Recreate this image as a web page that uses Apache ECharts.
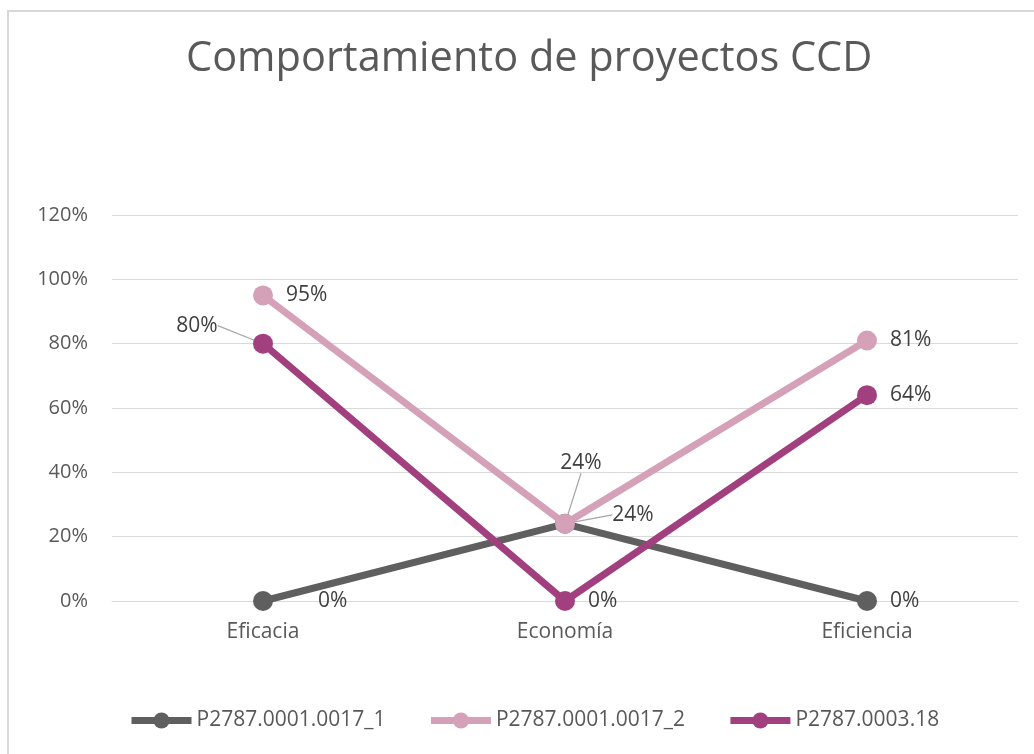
<!DOCTYPE html>
<html>
<head>
<meta charset="utf-8">
<script src="https://cdn.jsdelivr.net/npm/echarts@6/dist/echarts.min.js"></script>
<style>
html,body{margin:0;padding:0;background:#fff;overflow:hidden;width:1034px;height:754px;}
#frame{position:absolute;left:7px;top:10px;width:1100px;height:800px;border-left:2px solid #d9d9d9;border-top:2px solid #d9d9d9;}
#main{position:absolute;left:0;top:0;width:1034px;height:754px;}
</style>
</head>
<body>
<div id="frame"></div>
<div id="main"></div>
<script>
var categories = ['Eficacia', 'Economía', 'Eficiencia'];
var seriesNames = ['P2787.0001.0017_1', 'P2787.0001.0017_2', 'P2787.0003.18'];
var valuesP1 = [0, 0.24, 0];
var valuesP2 = [0.95, 0.24, 0.81];
var valuesP3 = [0.80, 0, 0.64];
var yTicks = [0, 0.2, 0.4, 0.6, 0.8, 1.0, 1.2];

var colors = ['#5f5f5f', '#d4a1b9', '#a2407f'];
var FONT = 'Open Sans';

function pct(v){ return Math.round(v*100) + '%'; }

// label offsets for leader-line labels (seriesIndex-dataIndex)
var moved = {
  '0-1': {dx: 16, dy: -61},
  '1-1': {dx: 68, dy: -9},
  '2-0': {dx: -66, dy: -18}
};

function mkSeries(idx, vals){
  return {
    name: seriesNames[idx],
    type: 'line',
    data: vals.map(function(v, i){
      var key = idx + '-' + i;
      var item = {value: v};
      if (moved[key]) {
        item.label = {position: 'inside'};
        item.labelLine = {show: true};
      }
      if (idx === 0 && i === 0) {
        item.label = {distance: 45};
      }
      return item;
    }),
    symbol: 'circle',
    symbolSize: 20,
    lineStyle: {color: colors[idx], width: 7},
    itemStyle: {color: colors[idx]},
    label: {
      show: true,
      position: 'right',
      distance: 13,
      formatter: function(p){ return pct(p.value); },
      color: '#404040',
      fontFamily: FONT,
      fontSize: 21
    },
    labelLine: {show: false, lineStyle: {color: '#a6a6a6', width: 1.2}},
    labelLayout: function(p){
      var m = moved[p.seriesIndex + '-' + p.dataIndex];
      if (m) return {dx: m.dx, dy: m.dy};
      return {};
    },
    emphasis: {disabled: true},
    animation: false,
    z: 2 + idx
  };
}

var chart = echarts.init(document.getElementById('main'), null, {renderer: 'canvas'});
chart.setOption({
  backgroundColor: 'transparent',
  animation: false,
  title: {
    text: 'Comportamiento de proyectos CCD',
    left: 181,
    top: 33,
    textStyle: {fontFamily: FONT, fontSize: 41.5, fontWeight: 'normal', color: '#595959'}
  },
  legend: {
    bottom: 18,
    left: 123,
    itemWidth: 60,
    itemHeight: 20,
    itemGap: 42,
    lineStyle: {width: 7},
    textStyle: {fontFamily: FONT, fontSize: 21, color: '#595959'},
    data: seriesNames
  },
  grid: {left: 112, right: 16, top: 215, bottom: 153, containLabel: false},
  xAxis: {
    type: 'category',
    data: categories,
    boundaryGap: true,
    axisLine: {show: true, lineStyle: {color: '#d9d9d9', width: 1}},
    axisTick: {show: false},
    axisLabel: {fontFamily: FONT, fontSize: 21, color: '#595959', margin: 21}
  },
  yAxis: {
    type: 'value',
    min: 0,
    max: 1.2,
    interval: 0.2,
    axisLine: {show: false},
    axisTick: {show: false},
    splitLine: {lineStyle: {color: '#d9d9d9', width: 1}},
    axisLabel: {
      fontFamily: FONT, fontSize: 20, color: '#595959', margin: 24,
      formatter: function(v){ return pct(v); }
    }
  },
  series: [mkSeries(0, valuesP1), mkSeries(1, valuesP2), mkSeries(2, valuesP3)]
});
</script>
</body>
</html>
